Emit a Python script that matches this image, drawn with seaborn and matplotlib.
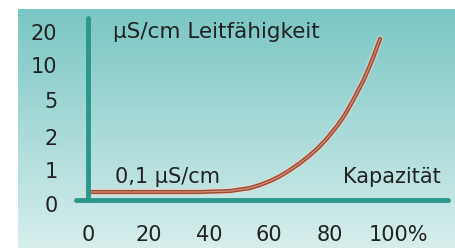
import numpy as np
import matplotlib
matplotlib.use("Agg")
import matplotlib.pyplot as plt
import matplotlib.transforms as mtransforms
import seaborn as sns
import pandas as pd

# ---- data ----
kapazitaet = [0, 37.1, 47.0, 53.6, 57.0, 60.3, 63.6, 66.9, 70.2, 73.5, 76.2,
              79.1, 82.8, 85.1, 87.7, 91.1, 92.7, 94.4, 96.7]
leitfaehigkeit = [0.1, 0.1, 0.14, 0.26, 0.39, 0.55, 0.75, 1.0, 1.21, 1.45, 1.67,
                  1.95, 3.0, 3.82, 4.94, 7.7, 9.26, 12.2, 17.9]
y_ticks = [0, 1, 2, 5, 10, 20]
y_tick_labels = ["0", "1", "2", "5", "10", "20"]
x_ticks = [0, 20, 40, 60, 80, 100]
x_minor_ticks = [10, 30, 50, 70, 90]
x_tick_labels = ["0", "20", "40", "60", "80", "100%"]
label_top = "µS/cm Leitfähigkeit"
label_base = "0,1 µS/cm"
label_x = "Kapazität"

df = pd.DataFrame({"x": kapazitaet, "y": leitfaehigkeit})

sns.set_style("white")
plt.rcParams["font.family"] = ["DejaVu Sans"]

W, H = 456, 248
fig = plt.figure(figsize=(W / 100, H / 100), dpi=100, facecolor="white")

# background gradient panel
bg = fig.add_axes([18 / W, 0, 1 - 18 / W, (H - 9) / H])
bg.set_axis_off()
top = np.array([122, 198, 196]) / 255
bot = np.array([214, 238, 236]) / 255
t = np.linspace(0, 1, 256)[:, None]
grad = top[None, None, :] * (1 - t[..., None]) + bot[None, None, :] * t[..., None]
grad = np.repeat(grad, 4, axis=1)
bg.imshow(grad, aspect="auto", extent=[0, 1, 0, 1])
bg.set_xlim(0, 1)
bg.set_ylim(0, 1)

# main axes
ax = fig.add_axes([88 / W, (H - 200) / H, (448 - 88) / W, 182 / H])
ax.patch.set_alpha(0)

vals = [0, 0.1, 1, 2, 5, 10, 20, 40]
pos = [0, 8 / 34, 30 / 34, 63 / 34, 100 / 34, 135 / 34, 168 / 34, 168 / 34 + 1]


def fwd(v):
    return np.interp(v, vals, pos)


def inv(p):
    return np.interp(p, pos, vals)


ax.set_yscale("function", functions=(fwd, inv))

# curve: soft underlay + brown line + highlight
sns.lineplot(data=df, x="x", y="y", ax=ax, color="#f0d6cc", lw=5.0, alpha=0.55,
             solid_capstyle="round", solid_joinstyle="round", clip_on=False)
sns.lineplot(data=df, x="x", y="y", ax=ax, color="#a04a32", lw=3.0,
             solid_capstyle="round", solid_joinstyle="round", clip_on=False)
sns.lineplot(data=df, x="x", y="y", ax=ax, color="#d09078", lw=0.9,
             solid_capstyle="round", solid_joinstyle="round", clip_on=False)

ax.set_xlim(0, (448 - 88) / 3.02)
ax.set_ylim(0, inv(182 / 34))

for s in ["top", "right"]:
    ax.spines[s].set_visible(False)
axis_color = "#2b978c"
for s in ["left", "bottom"]:
    ax.spines[s].set_color(axis_color)
    ax.spines[s].set_linewidth(3.5)
    ax.spines[s].set_capstyle("round")
ax.spines["bottom"].set_bounds(-4, (448 - 88) / 3.02)

ax.set_xticks(x_ticks)
ax.set_xticklabels(x_tick_labels)
ax.set_xticks(x_minor_ticks, minor=True)
ax.set_yticks(y_ticks)
ax.set_yticklabels(y_tick_labels)
ax.tick_params(axis="x", which="both", direction="out", length=4, width=2.5,
               color=axis_color, pad=14, labelsize=15, labelcolor="#222222")
ax.tick_params(axis="y", direction="out", length=4, width=2.5, color=axis_color,
               pad=18, labelsize=15, labelcolor="#222222")
ax.set_xlabel("")
ax.set_ylabel("")

# small offsets for the "100%" and "0" labels as in the original
xl = ax.get_xticklabels()
xl[-1].set_transform(xl[-1].get_transform()
                     + mtransforms.ScaledTranslation(8 / 100, 0, fig.dpi_scale_trans))
yl = ax.get_yticklabels()
yl[0].set_transform(yl[0].get_transform()
                    + mtransforms.ScaledTranslation(0, -4 / 100, fig.dpi_scale_trans))

# annotations
fig.text(113 / W, (H - 38) / H, label_top, ha="left", va="baseline",
         fontsize=15.5, color="#222222")
fig.text(115 / W, (H - 183) / H, label_base, ha="left", va="baseline",
         fontsize=15, color="#222222")
fig.text(441 / W, (H - 183) / H, label_x, ha="right", va="baseline",
         fontsize=15, color="#222222")

fig.savefig("out.png", dpi=100, facecolor="white")
